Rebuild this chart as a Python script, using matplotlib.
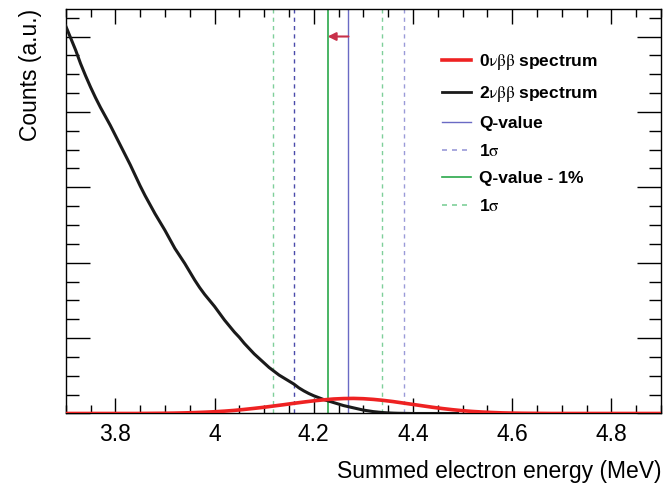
import numpy as np
import matplotlib
matplotlib.use("Agg")
import matplotlib.pyplot as plt
from matplotlib.ticker import MultipleLocator
from matplotlib.lines import Line2D

plt.rcParams['font.family'] = ['Liberation Sans', 'DejaVu Sans']
plt.rcParams['mathtext.fontset'] = 'stix'

# 2nbb spectrum (0.01 MeV bins starting at 3.70)
bb2_start = 3.70
bb2_counts = [5.14, 4.98, 4.82, 4.64, 4.48, 4.33, 4.19, 4.06, 3.94, 3.82,
              3.69, 3.56, 3.43, 3.30, 3.16, 3.02, 2.89, 2.77, 2.65, 2.54,
              2.43, 2.31, 2.19, 2.09, 1.99, 1.88, 1.77, 1.67, 1.58, 1.50,
              1.42, 1.33, 1.24, 1.16, 1.08, 1.01, 0.93, 0.86, 0.79, 0.73,
              0.67, 0.61, 0.56, 0.51, 0.47, 0.43, 0.39, 0.34, 0.30, 0.265,
              0.235, 0.21, 0.185, 0.165, 0.145, 0.125, 0.105, 0.09, 0.075, 0.06,
              0.045, 0.035, 0.025, 0.018, 0.012, 0.008, 0.005, 0.003, 0.002, 0.001,
              0.0, 0.0, 0.0, 0.0, 0.0, 0.0, 0.0, 0.0, 0.0, 0.0]
bb2_energy = [round(bb2_start + 0.01 * i, 2) for i in range(len(bb2_counts))]

# 0nbb spectrum (0.02 MeV bins)
bb0_energy = [3.70, 3.72, 3.74, 3.76, 3.78, 3.80, 3.82, 3.84, 3.86, 3.88,
              3.90, 3.92, 3.94, 3.96, 3.98, 4.00, 4.02, 4.04, 4.06, 4.08,
              4.10, 4.12, 4.14, 4.16, 4.18, 4.20, 4.22, 4.24, 4.26, 4.28,
              4.30, 4.32, 4.34, 4.36, 4.38, 4.40, 4.42, 4.44, 4.46, 4.48,
              4.50, 4.52, 4.54, 4.56, 4.58, 4.60, 4.62, 4.64, 4.66, 4.68,
              4.70, 4.72, 4.74, 4.76, 4.78, 4.80, 4.82, 4.84, 4.86, 4.88, 4.90]
bb0_counts = [0, 0, 0, 0, 0, 0, 0, 0, 0.001, 0.002,
              0.003, 0.005, 0.008, 0.012, 0.017, 0.023, 0.031, 0.041, 0.054, 0.068,
              0.083, 0.100, 0.117, 0.135, 0.152, 0.168, 0.181, 0.192, 0.198, 0.200,
              0.196, 0.187, 0.174, 0.158, 0.139, 0.120, 0.101, 0.082, 0.065, 0.050,
              0.037, 0.027, 0.019, 0.013, 0.008, 0.005, 0.003, 0.002, 0.001, 0,
              0, 0, 0, 0, 0, 0, 0, 0, 0, 0, 0]

q_value = 4.27
q_sigma = [4.16, 4.382]
q_shift = 4.228
q_shift_sigma = [4.118, 4.338]
arrow_y = 5.0

xlim = (3.7, 4.9)
ylim = (0, 5.365)
xticks = [3.8, 4.0, 4.2, 4.4, 4.6, 4.8]
xticklabels = ['3.8', '4', '4.2', '4.4', '4.6', '4.8']

fig = plt.figure(figsize=(6.63, 4.86), dpi=100)
ax = fig.add_axes([0.0991, 0.1492, 0.8979, 0.8323])

blue = '#6a6ac4'
blue_d1 = '#4a4aaa'
blue_d2 = '#9a9ad8'
green = '#2aa84a'
green_d = '#7fcf9a'

ax.axvline(q_sigma[0], color=blue_d1, lw=1.0, ls=(0, (3, 3)), zorder=1)
ax.axvline(q_sigma[1], color=blue_d2, lw=1.0, ls=(0, (3, 3)), zorder=1)
ax.axvline(q_shift_sigma[0], color=green_d, lw=1.0, ls=(0, (3, 3)), zorder=1)
ax.axvline(q_shift_sigma[1], color=green_d, lw=1.0, ls=(0, (3, 3)), zorder=1)
ax.axvline(q_value, color=blue, lw=1.0, zorder=1)
ax.axvline(q_shift, color=green, lw=1.2, zorder=1)

ax.plot(bb2_energy, bb2_counts, color='#1a1a1a', lw=2.2, zorder=3)
ax.plot(bb0_energy, bb0_counts, color='#ee2222', lw=2.6, zorder=4)

ax.annotate('', xy=(q_shift, arrow_y), xytext=(q_value, arrow_y),
            arrowprops=dict(arrowstyle='-|>', color='#c8304a', lw=1.5,
                            shrinkA=0, shrinkB=0, mutation_scale=12))

ax.set_xlim(*xlim)
ax.set_ylim(*ylim)
ax.set_xticks(xticks)
ax.set_xticklabels(xticklabels)
ax.xaxis.set_minor_locator(MultipleLocator(0.05))
ax.yaxis.set_major_locator(MultipleLocator(1))
ax.yaxis.set_minor_locator(MultipleLocator(0.25))
ax.tick_params(axis='both', which='both', direction='in', top=True, right=True)
ax.tick_params(axis='x', which='major', length=11, width=1, labelsize=16.5, pad=7)
ax.tick_params(axis='x', which='minor', length=6, width=1)
ax.tick_params(axis='y', which='major', length=17, width=1, labelleft=False)
ax.tick_params(axis='y', which='minor', length=9, width=1)
for s in ax.spines.values():
    s.set_linewidth(1.0)

ax.set_xlabel('Summed electron energy (MeV)', fontsize=16.5, loc='right', labelpad=10)
ax.set_ylabel('Counts (a.u.)', fontsize=16.5, loc='top', labelpad=14)

handles = [
    Line2D([], [], color='#ee2222', lw=2.6),
    Line2D([], [], color='#1a1a1a', lw=2.0),
    Line2D([], [], color=blue, lw=1.0),
    Line2D([], [], color=blue_d2, lw=1.2, ls=(0, (3, 3))),
    Line2D([], [], color=green, lw=1.2),
    Line2D([], [], color=green_d, lw=1.2, ls=(0, (3, 3))),
]
labels = [r'0$\mathrm{\nu\beta\beta}$ spectrum', r'2$\mathrm{\nu\beta\beta}$ spectrum',
          'Q-value', r'1$\mathrm{\sigma}$', 'Q-value - 1%', r'1$\mathrm{\sigma}$']
leg = ax.legend(handles, labels, loc='upper left', bbox_to_anchor=(0.632, 0.893),
                frameon=False, prop={'weight': 'bold', 'size': 12.5},
                handlelength=1.7, handletextpad=0.45, labelspacing=0.68,
                borderpad=0, borderaxespad=0)

fig.savefig('out.png', dpi=100)
